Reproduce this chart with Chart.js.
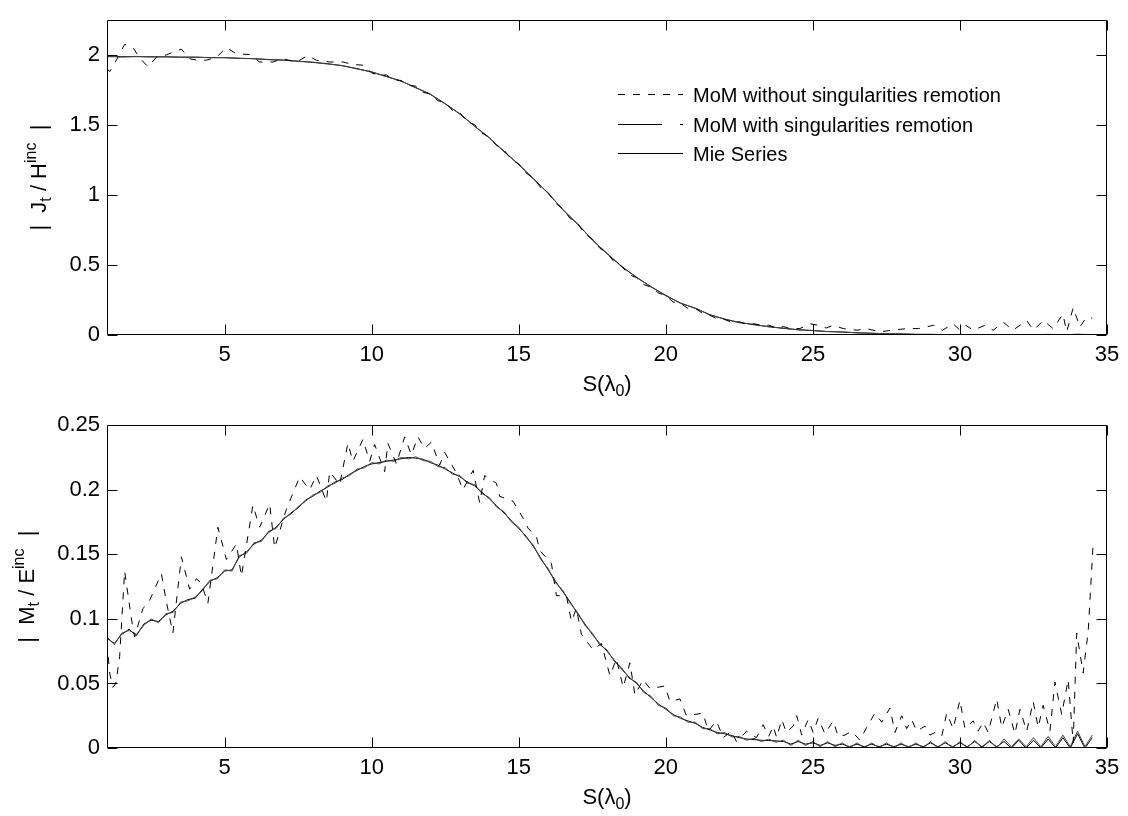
<!DOCTYPE html>
<html>
<head>
<meta charset="utf-8">
<script src="https://cdn.jsdelivr.net/npm/chart.js@4.4.1/dist/chart.umd.min.js"></script>
<style>
html,body{margin:0;padding:0;background:#fff;}
#wrap{position:relative;width:1128px;height:816px;overflow:hidden;background:#fff;}
canvas{position:absolute;left:0;}
#cTop{top:0;}
#cBot{top:405px;}
</style>
</head>
<body>
<div id="wrap">
  <canvas id="cTop" width="1128" height="405"></canvas>
  <canvas id="cBot" width="1128" height="411"></canvas>
</div>
<script>
// ---- data ----
// top plot: |Jt / Hinc|
const sTop = [1,1.5,2,2.5,3,3.5,4,4.5,5,5.5,
  6,6.5,7,7.5,8,8.5,9,9.5,10,10.5,
  11,11.5,12,12.5,13,13.5,14,14.5,15,15.5,
  16,16.5,17,17.5,18,18.5,19,19.5,20,20.5,
  21,21.5,22,22.5,23,23.5,24,24.5,25,25.5,
  26,26.5,27,27.5,28,28.5,29,29.5,30,30.5,
  31,31.5,32,32.5,33,33.5,34,34.5];
const jMie = [1.985,1.985,1.985,1.984,1.983,1.982,1.981,1.979,1.977,1.974,
  1.970,1.965,1.960,1.953,1.944,1.935,1.920,1.900,1.875,1.845,
  1.810,1.765,1.715,1.650,1.575,1.490,1.405,1.310,1.215,1.115,
  1.010,0.895,0.790,0.680,0.580,0.490,0.410,0.345,0.280,0.228,
  0.190,0.145,0.112,0.090,0.073,0.060,0.047,0.038,0.031,0.025,
  0.021,0.016,0.012,0.009,0.007,0.005,0.004,0.003,0.003,0.002,
  0.002,0.002,0.002,0.002,0.002,0.002,0.002,0.002];
const jWith = [1.990,1.982,1.987,1.983,1.985,1.980,1.982,1.977,1.979,1.972,
  1.971,1.963,1.961,1.951,1.946,1.932,1.922,1.897,1.877,1.842,
  1.812,1.762,1.718,1.647,1.578,1.487,1.408,1.306,1.218,1.111,
  1.013,0.891,0.794,0.676,0.584,0.486,0.414,0.341,0.284,0.225,
  0.193,0.142,0.115,0.087,0.076,0.058,0.049,0.036,0.033,0.024,
  0.022,0.015,0.013,0.008,0.008,0.004,0.005,0.002,0.004,0.001,
  0.003,0.001,0.004,0.001,0.005,0.001,0.006,0.002];
const sTopDash = [1.00,1.09,1.32,1.60,1.88,2.10,2.39,2.68,2.96,3.24,
  3.53,3.81,4.09,4.38,4.72,5.06,5.40,5.85,6.19,6.64,
  6.98,7.44,7.83,8.12,8.57,9.02,9.35,9.70,10.00,10.25,
  10.50,10.75,11.00,11.25,11.50,11.75,12.00,12.25,12.50,12.75,
  13.00,13.25,13.50,13.75,14.00,14.25,14.50,14.75,15.00,15.25,
  15.50,15.75,16.00,16.25,16.50,16.75,17.00,17.25,17.50,17.75,
  18.00,18.25,18.50,18.75,19.00,19.25,19.50,19.75,20.00,20.25,
  20.50,20.75,21.00,21.25,21.50,21.75,22.00,22.25,22.50,22.75,
  23.00,23.25,23.50,23.75,24.00,24.25,24.56,24.90,25.20,25.45,
  25.70,26.03,26.50,26.80,27.30,27.70,28.20,28.60,29.10,29.40,
  29.77,30.00,30.20,30.45,30.85,31.13,31.47,31.80,32.27,32.50,
  32.83,33.17,33.50,33.63,33.85,34.08,34.30,34.50];
const jDash = [1.900,1.878,1.960,2.073,2.050,1.980,1.913,1.980,1.993,2.016,
  2.039,1.970,1.959,1.960,1.980,2.050,2.005,2.000,1.947,1.947,
  1.970,1.947,1.993,1.959,1.947,1.947,1.930,1.924,1.870,1.850,
  1.855,1.820,1.815,1.780,1.775,1.730,1.720,1.670,1.660,1.600,
  1.585,1.520,1.500,1.440,1.410,1.350,1.320,1.250,1.220,1.155,
  1.120,1.050,1.015,0.940,0.900,0.830,0.795,0.720,0.685,0.620,
  0.585,0.520,0.490,0.430,0.410,0.360,0.340,0.300,0.280,0.235,
  0.225,0.190,0.190,0.155,0.140,0.115,0.110,0.090,0.095,0.075,
  0.080,0.070,0.070,0.050,0.060,0.045,0.046,0.080,0.069,0.050,
  0.069,0.046,0.034,0.046,0.023,0.034,0.046,0.046,0.069,0.034,
  0.080,0.034,0.069,0.034,0.069,0.034,0.092,0.034,0.103,0.034,
  0.103,0.046,0.149,0.023,0.195,0.057,0.126,0.120];

// bottom plot: |Mt / Einc|
const sBot = [1,1.25,1.5,1.75,2,2.25,2.5,2.75,3,3.25,
  3.5,3.75,4,4.25,4.5,4.75,5,5.25,5.5,5.75,
  6,6.25,6.5,6.75,7,7.25,7.5,7.75,8,8.25,
  8.5,8.75,9,9.25,9.5,9.75,10,10.25,10.5,10.75,
  11,11.25,11.5,11.75,12,12.25,12.5,12.75,13,13.25,
  13.5,13.75,14,14.25,14.5,14.75,15,15.25,15.5,15.75,
  16,16.25,16.5,16.75,17,17.25,17.5,17.75,18,18.25,
  18.5,18.75,19,19.25,19.5,19.75,20,20.25,20.5,20.75,
  21,21.25,21.5,21.75,22,22.25,22.5,22.75,23,23.25,
  23.5,23.75,24,24.25,24.5,24.75,25,25.25,25.5,25.75,
  26,26.25,26.5,26.75,27,27.25,27.5,27.75,28,28.25,
  28.5,28.75,29,29.25,29.5,29.75,30,30.25,30.5,30.75,
  31,31.25,31.5,31.75,32,32.25,32.5,32.75,33,33.25,
  33.5,33.75,34,34.25,34.5];
const mMie = [0.085,0.081,0.088,0.092,0.087,0.096,0.099,0.098,0.103,0.106,
  0.112,0.115,0.116,0.123,0.129,0.132,0.137,0.138,0.148,0.152,
  0.158,0.161,0.167,0.171,0.177,0.182,0.186,0.192,0.195,0.199,
  0.202,0.206,0.208,0.212,0.215,0.218,0.220,0.221,0.222,0.223,
  0.224,0.225,0.2245,0.2236,0.221,0.219,0.216,0.213,0.210,0.206,
  0.203,0.198,0.193,0.1875,0.182,0.176,0.170,0.164,0.156,0.147,
  0.138,0.129,0.121,0.113,0.104,0.096,0.088,0.081,0.075,0.068,
  0.061,0.055,0.050,0.044,0.039,0.034,0.030,0.026,0.023,0.021,
  0.019,0.016,0.014,0.012,0.011,0.0095,0.008,0.007,0.0065,0.006,
  0.0058,0.0055,0.005,0.003,0.005,0.003,0.004,0.002,0.004,0.002,
  0.003,0.001,0.003,0.001,0.003,0.001,0.003,0.001,0.003,0.001,
  0.003,0.001,0.004,0.001,0.004,0.001,0.004,0.001,0.005,0.001,
  0.005,0.001,0.005,0.000,0.006,0.000,0.006,0.000,0.007,0.000,
  0.008,0.000,0.011,0.000,0.008];
const mWith = [0.086,0.080,0.089,0.091,0.088,0.095,0.100,0.097,0.104,0.105,
  0.113,0.114,0.117,0.122,0.130,0.131,0.138,0.137,0.149,0.151,
  0.159,0.160,0.168,0.170,0.178,0.181,0.187,0.191,0.196,0.198,
  0.203,0.205,0.209,0.211,0.216,0.217,0.221,0.220,0.223,0.222,
  0.225,0.224,0.2255,0.2226,0.222,0.218,0.217,0.212,0.211,0.205,
  0.204,0.197,0.194,0.1865,0.183,0.175,0.171,0.163,0.157,0.146,
  0.139,0.128,0.122,0.112,0.105,0.095,0.089,0.080,0.076,0.067,
  0.062,0.054,0.051,0.043,0.040,0.033,0.031,0.025,0.024,0.020,
  0.020,0.015,0.015,0.011,0.012,0.0085,0.009,0.006,0.0075,0.005,
  0.0068,0.0045,0.006,0.002,0.006,0.002,0.005,0.001,0.005,0.001,
  0.004,0.000,0.004,0.000,0.004,0.000,0.004,0.000,0.004,0.000,
  0.004,0.000,0.005,0.000,0.005,0.000,0.005,0.000,0.006,0.000,
  0.006,0.000,0.007,0.001,0.007,0.001,0.008,0.001,0.009,0.001,
  0.010,0.001,0.013,0.001,0.010];
const sBotDash = [1.00,1.09,1.20,1.30,1.43,1.60,1.83,1.94,2.22,2.40,
  2.56,2.85,3.02,3.24,3.53,3.81,4.04,4.20,4.43,4.77,
  5.06,5.40,5.57,5.96,6.19,6.53,6.70,7.10,7.55,7.89,
  8.12,8.46,8.57,8.91,9.19,9.36,9.70,9.93,10.10,10.44,
  10.55,10.84,11.12,11.35,11.57,11.80,12.03,12.31,12.48,12.88,
  13.10,13.45,13.67,13.84,14.24,14.35,14.81,15.15,15.32,15.60,
  15.71,16.11,16.28,16.62,16.79,16.96,17.13,17.53,17.81,18.10,
  18.32,18.55,18.78,18.95,19.23,19.46,19.97,20.14,20.48,20.70,
  21.27,21.44,21.72,21.95,22.23,22.40,22.75,23.08,23.31,23.50,
  23.65,23.77,23.94,24.10,24.33,24.45,24.62,24.84,25.01,25.18,
  25.41,25.69,25.86,26.09,26.32,26.60,26.83,27.11,27.34,27.62,
  27.79,28.02,28.19,28.36,28.53,28.81,28.98,29.15,29.38,29.55,
  29.77,30.00,30.17,30.45,30.62,30.79,30.96,31.25,31.42,31.64,
  31.87,32.04,32.27,32.49,32.66,32.83,33.06,33.23,33.46,33.68,
  33.85,33.97,34.19,34.31,34.36,34.53];
const mDash = [0.082,0.058,0.047,0.050,0.071,0.137,0.100,0.086,0.108,0.112,
  0.120,0.135,0.113,0.089,0.148,0.123,0.131,0.128,0.112,0.171,
  0.146,0.158,0.133,0.188,0.171,0.189,0.155,0.185,0.210,0.200,
  0.211,0.191,0.214,0.204,0.236,0.222,0.239,0.222,0.235,0.214,
  0.236,0.220,0.241,0.227,0.241,0.232,0.237,0.219,0.229,0.213,
  0.200,0.215,0.190,0.211,0.205,0.195,0.191,0.178,0.170,0.164,
  0.153,0.143,0.118,0.118,0.098,0.108,0.088,0.076,0.081,0.056,
  0.069,0.047,0.066,0.041,0.053,0.046,0.048,0.036,0.038,0.025,
  0.027,0.013,0.021,0.008,0.013,0.005,0.013,0.008,0.018,0.009,
  0.017,0.008,0.022,0.012,0.017,0.025,0.010,0.022,0.012,0.023,
  0.011,0.021,0.009,0.010,0.013,0.006,0.016,0.027,0.020,0.031,
  0.012,0.025,0.015,0.022,0.013,0.017,0.010,0.012,0.009,0.027,
  0.015,0.037,0.015,0.021,0.013,0.020,0.012,0.038,0.016,0.030,
  0.011,0.030,0.013,0.036,0.016,0.033,0.013,0.051,0.026,0.053,
  0.004,0.089,0.058,0.081,0.090,0.159];

const seriesNames = ['MoM without singularities remotion','MoM with singularities remotion','Mie Series'];

// ---- helpers ----
const FONT = "Arial, 'Liberation Sans', Helvetica, sans-serif";
const pts = (xs, ys) => xs.map((x, i) => ({x, y: ys[i]}));
const fmtTick = v => String(+v.toFixed(3));

function rich(ctx, runs, x, y, rot) {
  ctx.save(); ctx.translate(x, y); if (rot) ctx.rotate(-Math.PI / 2);
  ctx.fillStyle = '#000'; ctx.textAlign = 'left'; ctx.textBaseline = 'alphabetic';
  let w = 0;
  runs.forEach(r => { ctx.font = `${r[1]}px ${FONT}`; w += ctx.measureText(r[0]).width; });
  let cx = -w / 2;
  runs.forEach(r => { ctx.font = `${r[1]}px ${FONT}`; ctx.fillText(r[0], cx, r[2]); cx += ctx.measureText(r[0]).width; });
  ctx.restore();
}

// box with inward ticks on all four sides (matlab look)
const frame = {
  id: 'frame',
  afterDatasetsDraw(chart) {
    const {ctx, chartArea: a, scales: {x, y}} = chart;
    const L = Math.round(a.left) + 0.5, R = Math.round(a.right) - 0.5, T = Math.round(a.top) + 0.5, B = Math.round(a.bottom) - 0.5;
    ctx.save(); ctx.strokeStyle = '#000'; ctx.lineWidth = 1; ctx.setLineDash([]);
    ctx.beginPath(); ctx.rect(L, T, R - L, B - T);
    x.ticks.forEach(t => { const p = Math.round(x.getPixelForValue(t.value)) + 0.5; ctx.moveTo(p, B); ctx.lineTo(p, B - 10); ctx.moveTo(p, T); ctx.lineTo(p, T + 10); });
    y.ticks.forEach(t => { const p = Math.round(y.getPixelForValue(t.value)) + 0.5; ctx.moveTo(L, p); ctx.lineTo(L + 10, p); ctx.moveTo(R, p); ctx.lineTo(R - 10, p); });
    ctx.stroke(); ctx.restore();
  }
};

function titles(yRuns, yTitleX, xTitleY, legend) {
  return {
    id: 'titles',
    afterDraw(chart) {
      const {ctx, chartArea: a} = chart;
      rich(ctx, yRuns, yTitleX, (a.top + a.bottom) / 2, true);
      rich(ctx, [['S(λ', 22, 0], ['0', 16, 5], [')', 22, 0]], (a.left + a.right) / 2, xTitleY, false);
      if (!legend) return;
      ctx.save(); ctx.strokeStyle = '#000'; ctx.lineWidth = 1;
      const rows = [94, 124, 153];
      const dashes = [[7, 8], [44, 18, 3, 100], []];
      rows.forEach((ry, i) => {
        ctx.setLineDash(dashes[i]); ctx.beginPath(); ctx.moveTo(618, ry + 0.5); ctx.lineTo(683, ry + 0.5); ctx.stroke();
        ctx.setLineDash([]);
        ctx.fillStyle = '#000'; ctx.font = `20px ${FONT}`; ctx.textAlign = 'left'; ctx.textBaseline = 'alphabetic';
        ctx.fillText(seriesNames[i], 693, ry + 8);
      });
      ctx.restore();
    }
  };
}

function makeChart(id, datasets, yMax, yStep, xh, titlePlugin) {
  return new Chart(document.getElementById(id), {
    type: 'line',
    data: {datasets},
    options: {
      responsive: false, animation: false, events: [],
      layout: {padding: {top: 8, right: 21, left: 0, bottom: 0}},
      plugins: {legend: {display: false}, tooltip: {enabled: false}},
      elements: {point: {radius: 0}, line: {tension: 0, borderWidth: 1}},
      scales: {
        x: {type: 'linear', min: 1, max: 35,
          grid: {display: false, drawTicks: false}, border: {display: false},
          ticks: {stepSize: 5, includeBounds: false, padding: 7, color: '#000', maxRotation: 0, font: {family: FONT, size: 22}, callback: fmtTick},
          afterFit: s => { s.height = xh; }},
        y: {type: 'linear', min: 0, max: yMax,
          grid: {display: false, drawTicks: false}, border: {display: false},
          ticks: {stepSize: yStep, includeBounds: false, padding: 7, color: '#000', font: {family: FONT, size: 22}, callback: fmtTick},
          afterFit: s => { s.width = 107; }}
      }
    },
    plugins: [frame, titlePlugin]
  });
}

const lineSet = (label, data, color, dash) => ({label, data, borderColor: color, borderWidth: 1, borderDash: dash, fill: false, pointRadius: 0});

makeChart('cTop', [
  lineSet(seriesNames[0], pts(sTopDash, jDash), '#000', [7, 8]),
  lineSet(seriesNames[1], pts(sTop, jWith), '#444', []),
  lineSet(seriesNames[2], pts(sTop, jMie), '#000', [])
], 2.245, 0.5, 70,
  titles([['|  J', 22, 0], ['t', 16, 5], [' / H', 22, 0], ['inc', 16, -10], ['  |', 22, 0]], 46, 391, true));

makeChart('cBot', [
  lineSet(seriesNames[0], pts(sBotDash, mDash), '#000', [7, 8]),
  lineSet(seriesNames[1], pts(sBot, mWith), '#444', []),
  lineSet(seriesNames[2], pts(sBot, mMie), '#000', [])
], 0.25, 0.05, 68,
  titles([['|  M', 22, 0], ['t', 16, 5], [' / E', 22, 0], ['inc', 16, -10], ['  |', 22, 0]], 34, 399, false));
</script>
</body>
</html>
